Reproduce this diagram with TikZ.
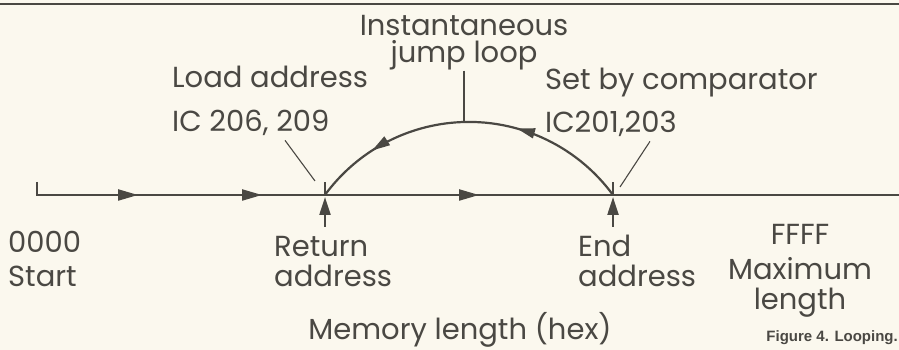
\documentclass[tikz,border=0pt]{standalone}
\usepackage{fontspec}
\setmainfont{Poppins}
\newfontfamily\capfont{Liberation Sans}
\usetikzlibrary{arrows.meta,decorations.markings}
\definecolor{ink}{HTML}{4A4843}
\definecolor{paper}{HTML}{FBF8EE}

\begin{document}
\begin{tikzpicture}[x=1pt,y=1pt,font=\fontsize{29}{30}\selectfont,
  lbl/.style={inner sep=0pt,text=ink},
  lead/.style={draw=ink,line width=1.1pt},
  flow/.style={draw=ink,line width=2.2pt},
  tip/.style={-{Triangle[length=18pt,width=11pt]}}]
\fill[paper] (0,0) rectangle (899,350);
\useasboundingbox (0,0) rectangle (899,350);
\draw[ink,line width=2pt] (0,346)--(899,346);

% points on the memory line
\coordinate (tick) at (37,168);
\coordinate (start) at (37,155);
\coordinate (far) at (899,155);
\coordinate (ret) at (325,155);
\coordinate (endp) at (613,155);
\coordinate (jtop) at (464,228);
\coordinate (loadtip) at (315,169);
\coordinate (settip) at (620,163);

\draw[flow,postaction={decorate},decoration={markings,
  mark=at position 114pt with {\arrow{Triangle[length=20pt,width=11pt]}},
  mark=at position 238pt with {\arrow{Triangle[length=20pt,width=11pt]}},
  mark=at position 455pt with {\arrow{Triangle[length=20pt,width=11pt]}}}]
  (tick)--(start)--(far);

% jump back from end to return
\draw[flow,postaction={decorate},decoration={markings,
  mark=at position 119pt with {\arrow{Triangle[length=18pt,width=10pt]}},
  mark=at position 270pt with {\arrow{Triangle[length=18pt,width=10pt]}}}]
  (endp) arc[start angle=36.2,end angle=143.8,radius=178.5];

\foreach \p in {ret,endp}{
  \draw[flow] (\p)--++(0,13);
  \draw[flow,tip] ([yshift=-32pt]\p)--([yshift=-2pt]\p);
}

\node[lbl,align=center,anchor=base] (jump) at (464,287) {Instantaneous\\[-3pt]jump loop};
\node[lbl,anchor=base west] (load) at (172,262) {Load address};
\node[lbl,anchor=base west] (loadic) at (172,218) {IC 206, 209};
\node[lbl,anchor=base west] (set) at (545,260) {Set by comparator};
\node[lbl,anchor=base west] (setic) at (545,217) {IC201,203};
\draw[lead] (jump.south)--(jtop);
\draw[lead] ([xshift=113pt,yshift=-4pt]loadic.south west)--(loadtip);
\draw[lead] ([xshift=105pt,yshift=-4pt]setic.south west)--(settip);

\node[lbl,align=left,anchor=base west] (zero) at (8,63) {0000\\[4pt]Start};
\node[lbl,align=left,anchor=base west] (retl) at (274,63) {Return\\address};
\node[lbl,align=left,anchor=base west] (endl) at (578,63) {End\\address};
\node[lbl,align=center,anchor=base] (maxl) at (800,40) {FFFF\\[5pt]Maximum\\length};
\node[lbl,anchor=base] (mem) at (460,10) {Memory length (hex)};
\node[lbl,anchor=base east,font=\capfont\bfseries\fontsize{15}{16}\selectfont] (cap) at (898,8) {Figure 4. Looping.};
\end{tikzpicture}
\end{document}
